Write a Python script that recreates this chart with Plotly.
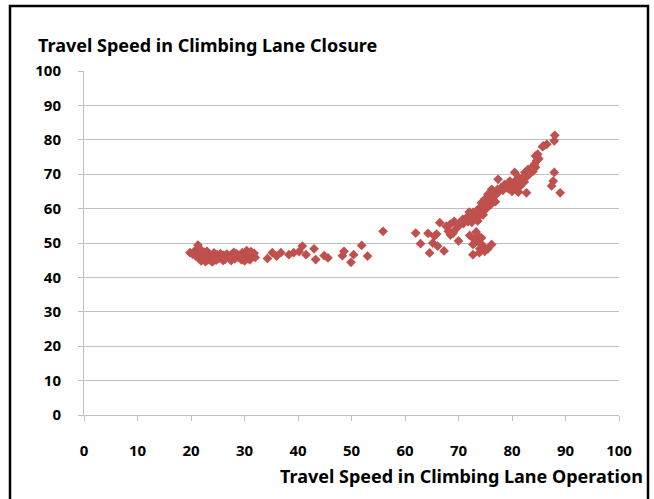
import plotly.graph_objects as go

# Low-speed group (climbing lane operation speed ~20-32 km/h)
low_x = [19.8, 20.3, 20.6, 20.9, 21.2, 21.3, 21.5, 21.7, 21.9, 22.1, 22.3, 22.5, 22.7, 22.9,
         23.1, 23.3, 23.5, 23.7, 23.9, 24.1, 24.3, 24.5, 24.7, 24.9, 25.2, 25.5, 25.8, 26.1,
         26.4, 26.7, 27.0, 27.3, 27.6, 27.9, 28.2, 28.5, 28.8, 29.1, 29.4, 29.6, 29.8, 30.0,
         30.2, 30.4, 30.6, 30.8, 31.0, 31.2, 31.5, 31.8, 32.0, 22.0, 23.0, 24.0, 26.0, 28.0, 27.5]
low_y = [47.2, 46.8, 47.5, 46.2, 48.3, 49.4, 45.6, 47.0, 44.8, 46.4, 45.3, 47.3, 44.6, 46.0,
         45.1, 46.8, 45.6, 44.9, 46.3, 45.4, 47.1, 45.9, 45.0, 46.6, 45.5, 46.9, 45.8, 46.4,
         45.3, 46.8, 46.0, 45.6, 46.7, 46.1, 45.4, 46.9, 45.9, 46.5, 45.2, 47.2, 46.0, 44.8,
         46.6, 47.8, 45.5, 46.9, 45.1, 47.5, 46.3, 47.0, 45.8, 47.8, 47.6, 44.5, 44.9, 47.3, 44.9]

# Mid-speed group
mid_x = [34.3, 35.2, 36.0, 36.8, 38.3, 39.2, 40.2, 40.8, 41.5, 43.0, 43.3, 44.9, 45.6,
         48.3, 48.6, 49.9, 50.4, 51.9, 53.0, 55.9]
mid_y = [45.5, 47.2, 46.2, 47.2, 46.6, 47.2, 47.5, 49.1, 46.6, 48.3, 45.2, 46.3, 45.7,
         46.3, 47.6, 44.4, 46.6, 49.3, 46.2, 53.4]

# High-speed group
high_x = [62.0, 62.9, 64.3, 64.6, 65.2, 65.5, 65.9, 66.1, 66.5, 67.3, 67.7, 68.1, 68.5, 69.0,
          69.4, 70.0, 70.2, 70.8,
          72.1, 72.7, 73.0, 72.7, 73.0, 73.3, 73.7, 73.7, 74.3, 74.0, 74.3, 74.6, 74.9, 75.5,
          76.2, 73.9,
          71.5, 72.1, 72.7, 73.3, 74.0, 74.3, 74.9, 75.5, 76.2, 77.4, 77.3, 78.0, 79.0, 79.9,
          80.5, 80.9, 81.0, 81.8, 82.7, 82.4, 83.0, 83.7, 84.2, 84.6, 84.8, 85.9, 86.5, 87.9,
          88.0, 87.9, 87.7, 87.4, 89.0, 85.7, 84.4,
          68.5, 69.2, 69.8, 70.4, 70.9, 71.2, 71.8, 72.3, 72.5, 72.9, 73.1, 73.5, 73.8, 74.1,
          74.5, 74.8, 75.1, 75.3, 75.7, 75.9, 76.4, 76.6, 77.0, 77.6, 78.3, 78.6, 79.3, 79.6,
          80.2, 80.6, 81.3, 81.5, 82.0, 82.3, 82.9, 83.3, 83.9, 84.4, 85.0, 74.6, 73.6, 72.0,
          76.9, 80.0, 81.2]
high_y = [52.9, 49.8, 52.8, 47.1, 50.0, 52.0, 52.6, 49.1, 55.9, 47.7, 54.9, 53.4, 52.3, 52.9,
          53.9, 50.6, 55.2, 56.9,
          52.2, 46.6, 50.0, 49.6, 51.0, 53.2, 52.0, 50.5, 49.6, 48.3, 51.5, 49.1, 47.6, 48.3,
          49.6, 47.2,
          57.4, 57.9, 58.9, 59.3, 60.3, 61.7, 62.7, 64.1, 65.6, 68.5, 65.6, 66.1, 66.6, 67.1,
          70.5, 68.5, 65.1, 67.5, 64.6, 70.5, 71.4, 71.9, 72.9, 73.9, 75.8, 78.2, 78.7, 79.7,
          81.3, 70.5, 68.0, 66.6, 64.6, 78.0, 75.3,
          55.5, 56.3, 55.2, 56.1, 55.6, 56.6, 56.2, 57.0, 56.0, 57.6, 58.5, 57.3, 58.8, 59.0,
          60.5, 59.4, 61.5, 60.2, 62.0, 61.0, 63.2, 64.5, 64.0, 65.0, 65.3, 67.0, 65.8, 68.0,
          66.0, 67.8, 69.0, 66.5, 68.8, 67.8, 69.5, 70.2, 70.8, 72.0, 74.5, 58.2, 56.4, 59.0,
          62.0, 65.0, 64.8]

tick_vals = [0, 10, 20, 30, 40, 50, 60, 70, 80, 90, 100]
chart_title = "Travel Speed in Climbing Lane Closure"
x_title = "Travel Speed in Climbing Lane Operation"

W, H = 654, 499
L, R, T, B = 84, 35, 71, 84
pw, ph = W - L - R, H - T - B

xs = low_x + mid_x + high_x
ys = low_y + mid_y + high_y

fig = go.Figure(go.Scatter(
    x=xs, y=ys, mode="markers",
    marker=dict(symbol="diamond", size=7.5, color="#C0504D", line=dict(width=0)),
    showlegend=False, hoverinfo="x+y"))

font_fam = "Noto Sans, DejaVu Sans, sans-serif"
grid_col = "#BFBFBF"

fig.update_layout(
    width=W, height=H,
    margin=dict(l=L, r=R, t=T, b=B),
    paper_bgcolor="white", plot_bgcolor="white",
    font=dict(family=font_fam, color="black"),
    title=dict(text="<b>" + chart_title + "</b>", xref="container", yref="container",
               x=38 / W, xanchor="left", y=1 - 46 / H, yanchor="middle",
               font=dict(size=18, family=font_fam, color="black")),
    xaxis=dict(range=[0, 100], tickvals=tick_vals, showgrid=False, zeroline=False,
               showline=True, linecolor=grid_col, linewidth=1,
               ticks="outside", ticklen=5, tickcolor=grid_col,
               ticklabelstandoff=17,
               tickfont=dict(size=15, family=font_fam, color="black", weight="bold")),
    yaxis=dict(range=[0, 100], tickvals=tick_vals, showgrid=True, gridcolor=grid_col,
               gridwidth=1, zeroline=False,
               showline=True, linecolor=grid_col, linewidth=1,
               ticks="outside", ticklen=5, tickcolor=grid_col,
               ticklabelstandoff=14,
               tickfont=dict(size=15, family=font_fam, color="black", weight="bold")),
    annotations=[dict(text="<b>" + x_title + "</b>", xref="paper", yref="paper",
                      x=(645 - L) / pw, xanchor="right", y=(H - B - 476) / ph, yanchor="middle",
                      showarrow=False, font=dict(size=18, family=font_fam, color="black"))],
    shapes=[dict(type="rect", xref="paper", yref="paper",
                 x0=(10 - L) / pw, x1=(648 - L) / pw,
                 y0=(H - B - 505) / ph, y1=(H - B - 6) / ph,
                 line=dict(color="black", width=2.5), fillcolor="rgba(0,0,0,0)",
                 layer="above")],
)

fig.write_html("out.html", config={"displayModeBar": False},
               post_script="document.body.style.margin='0';document.body.style.overflow='hidden';")
